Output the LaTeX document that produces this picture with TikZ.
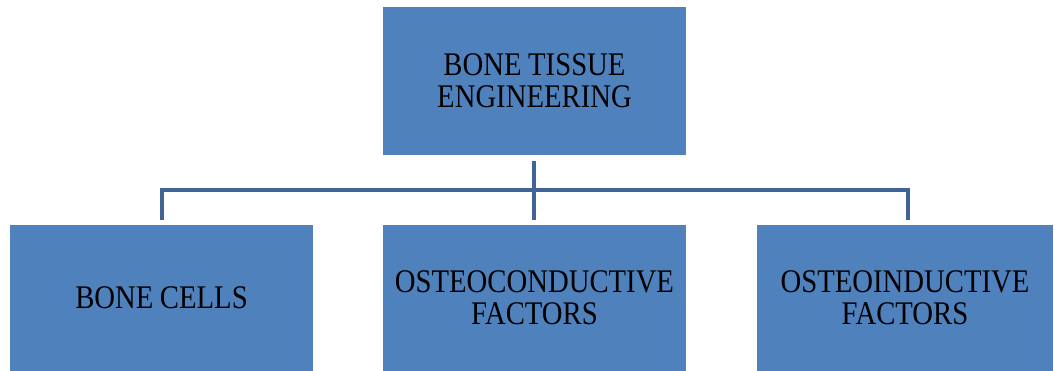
\documentclass[tikz,border=0pt]{standalone}
\usepackage{fontspec}
\newfontfamily\boxfont[FakeStretch=0.87]{Liberation Serif}
\newcommand\blkfont{\boxfont\fontsize{33}{32}\selectfont}
\newcommand\wsp{\hspace{0.2em}}
\definecolor{boxfill}{HTML}{4F81BD}
\definecolor{linecol}{HTML}{3F6498}
\begin{document}
\begin{tikzpicture}[x=1pt,y=1pt,
  blk/.style={fill=boxfill, draw=none, minimum width=303pt, minimum height=148pt,
    inner sep=0pt, align=center, text width=290pt,
    font=\blkfont, text=black},
  conn/.style={draw=linecol, line width=4pt}]
\useasboundingbox (0,0) rectangle (1054,371);
\node[blk] (top) at (534.5,290) {BONE\wsp TISSUE\\ENGINEERING};
\node[blk, minimum height=146pt] (cells) at (161.5,73) {BONE\wsp CELLS};
\node[blk, minimum height=146pt] (cond) at (534.5,73) {OSTEOCONDUCTIVE\\FACTORS};
\node[blk, minimum height=146pt, minimum width=296pt] (ind) at (905,73) {OSTEOINDUCTIVE\\FACTORS};
\coordinate (hub) at (534,181);
\coordinate (topend) at (534,210);
\coordinate (midend) at (534,151);
\coordinate (lcorner) at (162,181);
\coordinate (lend) at (162,151);
\coordinate (rcorner) at (908,181);
\coordinate (rend) at (908,151);
\draw[conn] (topend) -- (midend);
\draw[conn] (lend) -- (lcorner) -- (rcorner) -- (rend);
\end{tikzpicture}
\end{document}
